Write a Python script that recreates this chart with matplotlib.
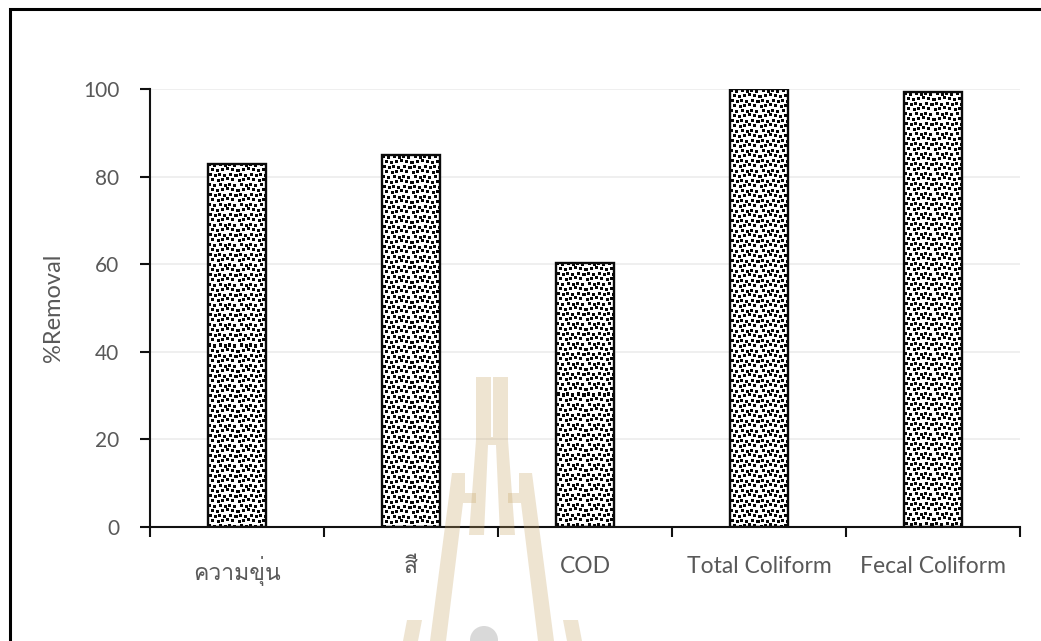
import numpy as np
import matplotlib
matplotlib.use("Agg")
import matplotlib.pyplot as plt
import matplotlib.font_manager as fm
from matplotlib.ft2font import FT2Font
from matplotlib.patches import Rectangle, Polygon, Circle

# ---- data -------------------------------------------------------------
categories = ["ความขุ่น", "สี", "COD", "Total Coliform", "Fecal Coliform"]
removal = [82.9, 84.9, 60.3, 100.0, 99.3]
y_ticks = [0, 20, 40, 60, 80, 100]
y_label = "%Removal"


def find_thai_family():
    """Return the name of an installed font that covers Thai script."""
    for entry in fm.fontManager.ttflist:
        try:
            cmap = FT2Font(entry.fname).get_charmap()
        except Exception:
            continue
        if all(cp in cmap for cp in (0x0E04, 0x0E38, 0x0E48, 0x0E35)):
            return entry.name
    return None


thai = find_thai_family()
families = ["Lato"] + ([thai] if thai else []) + ["DejaVu Sans"]
plt.rcParams["font.family"] = families

TEXT = "#595959"
W, H, DPI = 1041, 641, 100
fig = plt.figure(figsize=(W / DPI, H / DPI), dpi=DPI)
fig.patch.set_facecolor("white")

# plot area in pixel coordinates
left, right, top, bottom = 150, 1020, 89, 527
ax = fig.add_axes([left / W, 1 - bottom / H, (right - left) / W, (bottom - top) / H])

n = len(categories)
x = np.arange(n)
bar_w = 0.33
bars = ax.bar(x, removal, width=bar_w, facecolor="none", edgecolor="#0a0a0a",
              linewidth=1.7, zorder=3)

ax.set_xlim(-0.5, n - 0.5)
ax.set_ylim(0, 100)

# confetti fill: a small tile of staggered squares, repeated and clipped to each bar
tile_w, tile_h = 20, 20
tile = np.ones((tile_h, tile_w))
spots = [(0, 0), (5, 1), (11, 0), (16, 1),
         (3, 5), (8, 6), (13, 5), (18, 4),
         (1, 10), (6, 11), (10, 10), (15, 11),
         (3, 15), (9, 16), (13, 15), (18, 14)]
for (cx, cy) in spots:
    for dy in range(3):
        for dx in range(3):
            tile[(cy + dy) % tile_h, (cx + dx) % tile_w] = 0.03
for b in bars:
    x0, y0 = b.get_x(), b.get_y()
    x1, y1 = x0 + b.get_width(), y0 + b.get_height()
    (px0, py0), (px1, py1) = ax.transData.transform([(x0, y0), (x1, y1)])
    nw, nh = int(round(px1 - px0)), int(round(py1 - py0))
    reps = (nh // tile_h + 2, nw // tile_w + 2)
    tex = np.tile(tile, reps)[:nh, :nw]
    im = ax.imshow(tex, cmap="gray", vmin=0, vmax=1, extent=(x0, x1, y0, y1),
                   origin="upper", interpolation="nearest", aspect="auto",
                   zorder=2.5)
    im.set_clip_path(b)

ax.set_xlim(-0.5, n - 0.5)
ax.set_ylim(0, 100)

# axes styling
for s in ("top", "right"):
    ax.spines[s].set_visible(False)
ax.spines["left"].set_color("#111111")
ax.spines["left"].set_linewidth(1.5)
ax.spines["bottom"].set_color("#111111")
ax.spines["bottom"].set_linewidth(1.5)
ax.spines["bottom"].set_zorder(4)

ax.set_yticks(y_ticks)
ax.set_yticklabels([str(v) for v in y_ticks])
ax.tick_params(axis="y", direction="out", length=7, width=1.5, color="#111111",
               labelcolor=TEXT, labelsize=15, pad=15)
ax.yaxis.grid(True, color="#ececec", linewidth=1.2, zorder=0)
ax.set_axisbelow(True)

ax.set_xticks(np.arange(-0.5, n, 1.0))
ax.set_xticklabels([])
ax.tick_params(axis="x", which="major", direction="out", length=7, width=1.5,
               color="#111111")
ax.set_xticks(x, minor=True)
ax.set_xticklabels(categories, minor=True)
ax.tick_params(axis="x", which="minor", length=0, labelcolor=TEXT,
               labelsize=16.5, pad=21)

ax.set_ylabel(y_label, color=TEXT, fontsize=17, labelpad=14)

# figure border (continues past the right and bottom edges)
fig.patches.append(Rectangle((9.5, H - 8.5 - 700), 1100, 700,
                             transform=None, fill=False, edgecolor="black",
                             linewidth=2.2, zorder=10))

# faint emblem watermark, in figure pixel coordinates (origin top-left)
def fp(pts):
    return [(px, H - py) for px, py in pts]

gold = (0.78, 0.65, 0.41)
shapes = [
    # central spire
    [(476, 377), (491, 377), (491, 437), (493, 437), (493, 377), (508, 377),
     (508, 440), (515, 535), (500, 535), (496, 445), (488, 445), (484, 535),
     (469, 535), (476, 440)],
    # outer strokes
    [(452, 473), (465, 473), (465, 493), (476, 493), (476, 503), (463, 503),
     (446, 641), (430, 641)],
    [(519, 473), (532, 473), (554, 641), (538, 641), (521, 503), (508, 503),
     (508, 493), (519, 493)],
    # lower flanking strokes
    [(407, 620), (422, 620), (418, 641), (403, 641)],
    [(563, 620), (578, 620), (582, 641), (567, 641)],
]
for pts in shapes:
    fig.patches.append(Polygon(fp(pts), closed=True, transform=None,
                               facecolor=gold, edgecolor="none", alpha=0.3,
                               zorder=9))
fig.patches.append(Circle((484, H - 640), 14, transform=None,
                          facecolor="#d9d9d9", edgecolor="none", zorder=9))

fig.savefig("out.png", dpi=DPI)
